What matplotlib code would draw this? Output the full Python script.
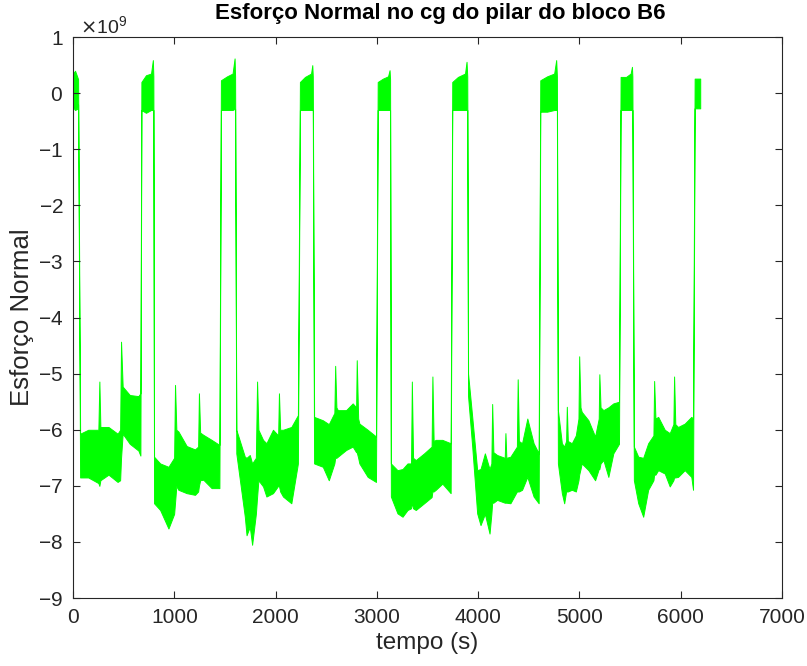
import numpy as np
import matplotlib.pyplot as plt
from matplotlib.ticker import ScalarFormatter, MultipleLocator

plt.rcParams['font.family'] = ['Liberation Sans', 'DejaVu Sans']
plt.rcParams['axes.unicode_minus'] = False

# time (s) and the upper / lower edge of the noisy trace (units of 1e9)
tempo = [0, 20, 40, 50,
         70, 150, 250, 260, 270, 350, 440, 465, 474, 490, 560, 645, 665,
         675, 720, 770, 788, 793,
         800, 860, 942, 998, 1007, 1020, 1040, 1122, 1204, 1235, 1243, 1255, 1286, 1368, 1445,
         1460, 1520, 1575, 1595, 1600,
         1612, 1696, 1713, 1745, 1768, 1805, 1817, 1830, 1876, 1909, 1974, 2025, 2033, 2045,
         2073, 2155, 2220,
         2240, 2290, 2350, 2362, 2367,
         2380, 2466, 2525, 2580, 2588, 2600, 2614, 2696, 2761, 2795, 2801, 2815, 2827, 2909, 2991,
         3008, 3060, 3110, 3125, 3130,
         3138, 3203, 3253, 3302, 3337, 3345, 3357, 3384, 3466, 3540, 3548, 3560, 3581, 3646, 3728,
         3744, 3800, 3870, 3885, 3892,
         3900, 3941, 3990, 4023, 4066, 4112, 4130, 4138, 4150, 4187, 4262, 4269, 4278, 4318,
         4382, 4390, 4402, 4433, 4485, 4547, 4597,
         4613, 4680, 4750, 4770, 4777,
         4787, 4826, 4849, 4868, 4875, 4885, 4924, 4964, 4990, 4997, 5010, 5022, 5088, 5154,
         5190, 5196, 5208, 5236, 5285, 5334, 5390,
         5406, 5460, 5505, 5518, 5522,
         5537, 5580, 5629, 5678, 5730, 5737, 5750, 5777, 5842, 5891, 5927, 5934, 5946, 5973,
         6039, 6104, 6121,
         6137, 6192]

topo = [0.35, 0.40, 0.30, 0.25,
        -6.07, -6.00, -6.00, -5.14, -5.95, -5.95, -6.07, -6.00, -4.43, -5.23, -5.38, -5.40, -5.35,
        0.20, 0.32, 0.35, 0.59, 0.30,
        -6.48, -6.60, -6.66, -6.50, -5.20, -6.00, -6.03, -6.29, -6.35, -6.30, -5.35, -6.05, -6.09,
        -6.18, -6.27,
        0.23, 0.30, 0.35, 0.62, 0.30,
        -6.00, -6.48, -6.50, -6.45, -6.60, -6.50, -5.14, -6.00, -6.18, -6.24, -6.00, -6.10, -5.35,
        -6.00, -6.00, -5.95, -5.74,
        0.20, 0.29, 0.35, 0.50, 0.30,
        -5.77, -5.83, -5.90, -5.70, -4.86, -5.60, -5.65, -5.65, -5.53, -5.60, -4.76, -5.80, -5.89,
        -6.00, -6.12,
        0.20, 0.26, 0.30, 0.41, 0.25,
        -6.60, -6.72, -6.70, -6.60, -6.60, -5.14, -6.50, -6.54, -6.42, -6.30, -5.05, -6.20, -6.18,
        -6.18, -6.24,
        0.20, 0.29, 0.35, 0.56, 0.30,
        -5.00, -5.77, -6.72, -6.70, -6.42, -6.70, -6.60, -5.54, -6.40, -6.45, -6.50, -6.06, -6.50,
        -6.48, -6.30, -5.10, -6.20, -6.24, -5.80, -6.24, -6.42,
        0.23, 0.30, 0.35, 0.59, 0.30,
        -5.65, -6.24, -6.30, -6.20, -5.59, -6.20, -6.24, -6.10, -5.80, -4.69, -5.60, -5.68, -5.83,
        -6.12, -5.80, -5.01, -5.60, -5.65, -5.60, -5.53, -5.50,
        0.29, 0.29, 0.35, 0.47, 0.30,
        -6.30, -6.48, -6.50, -6.24, -6.10, -5.13, -5.80, -5.77, -6.00, -6.06, -5.90, -5.05, -5.90,
        -5.95, -5.89, -5.77, -5.80,
        0.26, 0.26]

base = [-0.25, -0.30, -0.28, -0.20,
        -6.85, -6.85, -6.95, -7.00, -6.90, -6.80, -6.93, -6.90, -6.50, -6.07, -6.25, -6.37, -6.46,
        -0.30, -0.35, -0.30, -0.30, -0.30,
        -7.31, -7.43, -7.76, -7.50, -7.30, -7.00, -7.07, -7.13, -7.16, -7.10, -7.00, -6.90, -6.89,
        -7.04, -7.04,
        -0.30, -0.30, -0.30, -0.28, -0.28,
        -6.42, -7.55, -7.88, -7.73, -8.05, -7.50, -7.20, -6.90, -7.01, -7.19, -7.13, -7.00, -7.00,
        -7.10, -7.19, -7.31, -6.60,
        -0.30, -0.30, -0.30, -0.30, -0.30,
        -6.60, -6.66, -6.90, -6.60, -6.50, -6.50, -6.48, -6.36, -6.30, -6.40, -6.40, -6.50, -6.60,
        -6.84, -6.93,
        -0.30, -0.30, -0.30, -0.30, -0.30,
        -7.19, -7.49, -7.55, -7.43, -7.40, -7.30, -7.40, -7.43, -7.31, -7.20, -7.10, -7.10, -7.07,
        -6.96, -7.13,
        -0.30, -0.30, -0.30, -0.30, -0.30,
        -5.40, -6.30, -7.49, -7.70, -7.50, -7.85, -7.50, -7.30, -7.30, -7.25, -7.30, -7.30, -7.30,
        -7.31, -7.10, -7.10, -7.10, -7.07, -6.84, -7.19, -7.31,
        -0.33, -0.33, -0.30, -0.30, -0.30,
        -6.60, -7.13, -7.31, -7.10, -7.10, -7.10, -7.07, -7.10, -6.90, -6.80, -6.70, -6.60, -6.72,
        -6.90, -6.70, -6.70, -6.60, -6.54, -6.84, -6.42, -6.25,
        -0.30, -0.30, -0.30, -0.30, -0.30,
        -6.90, -7.31, -7.55, -7.07, -6.90, -6.80, -6.80, -6.72, -6.78, -7.01, -6.90, -6.85, -6.85,
        -6.84, -6.72, -6.84, -7.07,
        -0.27, -0.27]

t = np.array(tempo)
hi = np.array(topo) * 1e9
lo = np.array(base) * 1e9

fig = plt.figure(figsize=(8.07, 6.66), dpi=100)
ax = fig.add_axes([0.0905, 0.102, 0.8786, 0.8423])

verde = '#00ff00'
ax.fill_between(t, lo, hi, color=verde, linewidth=0.7, edgecolor=verde)

ax.set_xlim(0, 7000)
ax.set_ylim(-9e9, 1e9)
ax.xaxis.set_major_locator(MultipleLocator(1000))
ax.yaxis.set_major_locator(MultipleLocator(1e9))
fmt = ScalarFormatter(useMathText=True)
fmt.set_powerlimits((0, 0))
ax.yaxis.set_major_formatter(fmt)

cinza = '#262626'
ax.tick_params(direction='in', top=True, right=True, length=5, width=0.8,
               colors=cinza, labelsize=15, pad=7)
for s in ax.spines.values():
    s.set_color(cinza)
    s.set_linewidth(0.8)
off = ax.yaxis.get_offset_text()
off.set_fontsize(14)
off.set_color(cinza)
off.set_x(0.01)

ax.set_title('Esforço Normal no cg do pilar do bloco B6', fontsize=16,
             fontweight='bold', x=0.518, y=1.0, pad=13)
ax.set_xlabel('tempo (s)', fontsize=17.5, color=cinza, labelpad=4)
ax.set_ylabel('Esforço Normal', fontsize=18.5, color=cinza, labelpad=3)

fig.savefig('out.png', dpi=100)
